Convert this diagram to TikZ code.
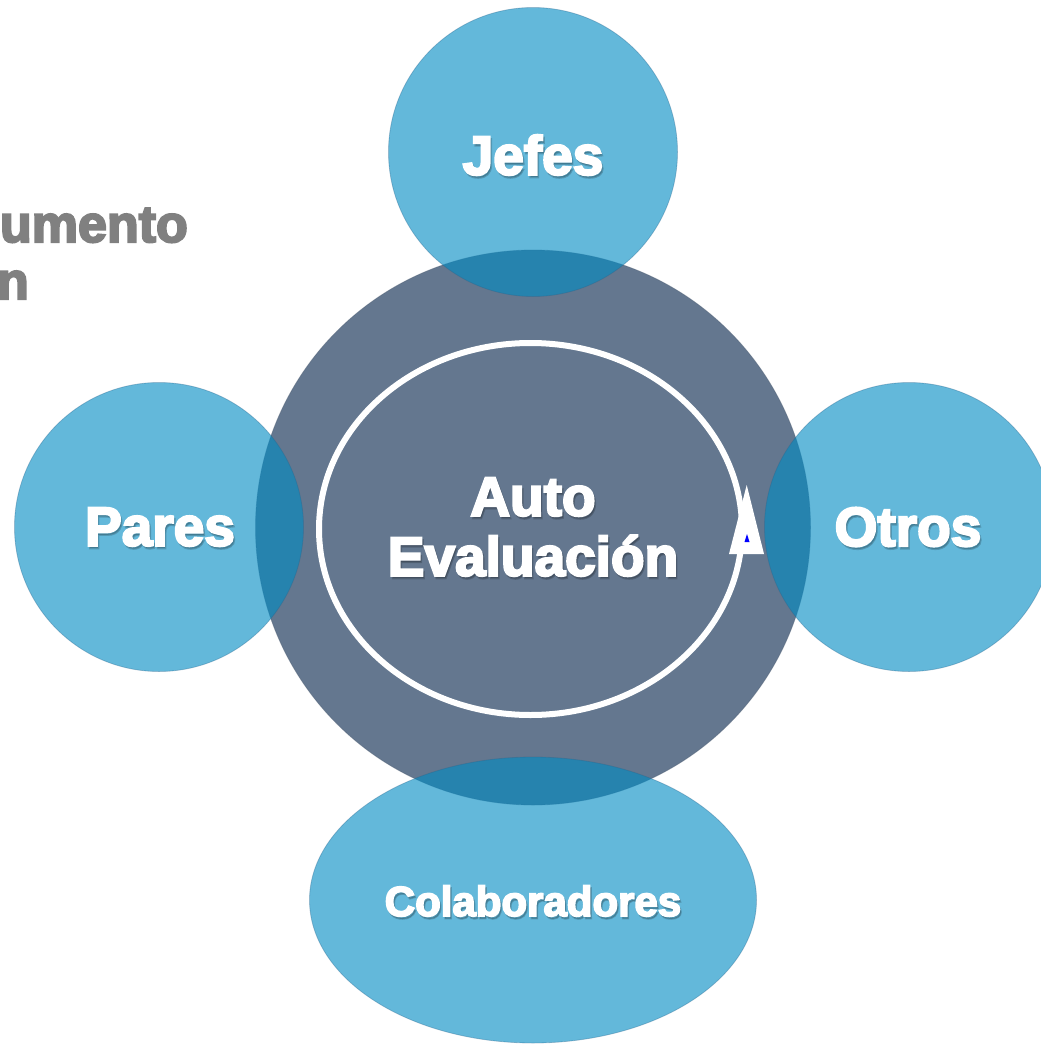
\documentclass[tikz,border=0pt]{standalone}
\usepackage{fontspec}
\newfontfamily\heavy{Liberation Sans}[BoldFeatures={FakeBold=4}]
\usetikzlibrary{shapes.geometric}
\definecolor{bluec}{RGB}{0,139,195}
\definecolor{darkc}{RGB}{100,119,143}
\definecolor{grayt}{RGB}{128,128,128}
\definecolor{edgec}{RGB}{40,100,140}
\tikzset{
  bubble/.style={circle, inner sep=0pt, minimum size=289pt, fill=bluec, fill opacity=0.61, draw=edgec, draw opacity=0.35, line width=0.8pt},
  bigtxt/.style={text=white, font=\heavy\bfseries\fontsize{55}{60}\selectfont, align=center, inner sep=0pt},
  smalltxt/.style={text=white, font=\heavy\bfseries\fontsize{42}{46}\selectfont, inner sep=0pt},
  shadowtxt/.style={text=black, text opacity=0.18},
  graytxt/.style={text=grayt, font=\heavy\bfseries\fontsize{52}{57}\selectfont, inner sep=0pt, anchor=base east}
}
\begin{document}
\begin{tikzpicture}[x=1pt,y=-1pt]
\useasboundingbox (0,0) rectangle (1041,1044);
\clip (0,0) rectangle (1041,1044);
% gray partial title
\node[graytxt] (t1) at (188,242) {umento};
\node[graytxt] (t2) at (29,299) {n};
% central circle
\node[circle, inner sep=0pt, minimum size=555pt, fill=darkc, draw=darkc!80!black, draw opacity=0.4, line width=0.8pt] (center) at (533,527.5) {};
% white cycle
\draw[white, line width=6pt] (530.5,529) ellipse [x radius=211.5pt, y radius=186pt];
\coordinate (tip) at (746.7,485);
\coordinate (bl) at (729,554);
\coordinate (br) at (764,554);
\fill[white] (tip) -- (br) -- (bl) -- cycle;
\coordinate (s1) at (747,534);
\coordinate (s2) at (749.5,542);
\coordinate (s3) at (744.5,542);
\fill[blue] (s1) -- (s2) -- (s3) -- cycle;
% outer bubbles
\node[bubble] (jefes) at (533,152) {};
\node[bubble] (pares) at (159,527) {};
\node[bubble] (otros) at (909,527) {};
\node[ellipse, inner sep=0pt, minimum width=447pt, minimum height=286pt, fill=bluec, fill opacity=0.61, draw=edgec, draw opacity=0.35, line width=0.8pt] (colab) at (533,900) {};
% text shadows
\node[bigtxt, shadowtxt] (jefes-s) at (534.5,157.5) {Jefes};
\node[bigtxt, shadowtxt] (pares-s) at (161.5,529.5) {Pares};
\node[bigtxt, shadowtxt] (otros-s) at (909.5,529.5) {Otros};
\node[bigtxt, shadowtxt] (auto-s) at (534.5,529.5) {Auto\\Evaluación};
\node[smalltxt, shadowtxt] (colab-s) at (534.5,903.5) {Colaboradores};
% texts
\node[bigtxt] (jefes-t) at (533,155) {Jefes};
\node[bigtxt] (pares-t) at (160,527) {Pares};
\node[bigtxt] (otros-t) at (908,527) {Otros};
\node[bigtxt] (auto-t) at (533,527) {Auto\\Evaluación};
\node[smalltxt] (colab-t) at (533,901) {Colaboradores};
\end{tikzpicture}
\end{document}
